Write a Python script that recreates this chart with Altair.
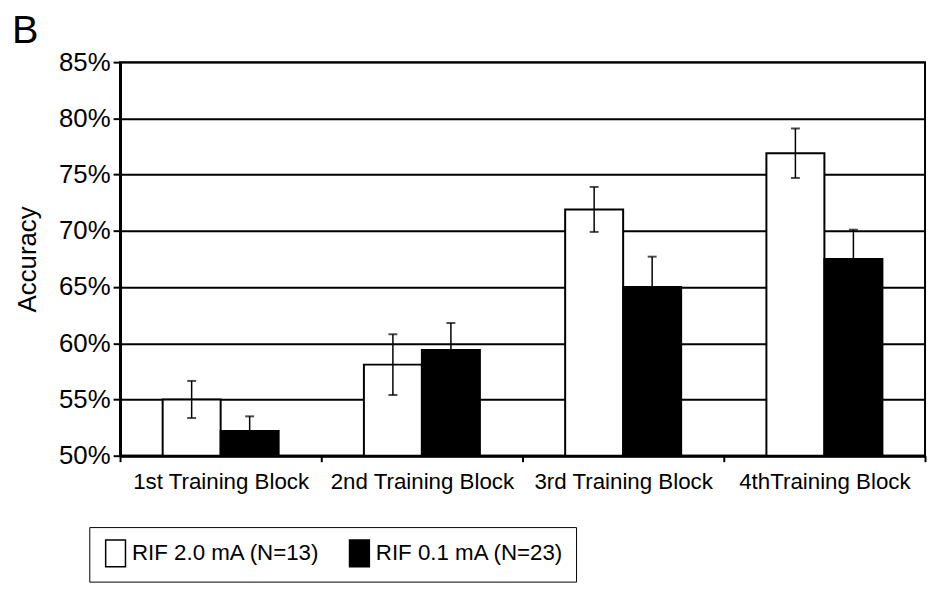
import altair as alt
import pandas as pd

blocks = ["1st Training Block", "2nd Training Block", "3rd Training Block", "4thTraining Block"]
groups = ["RIF 2.0 mA (N=13)", "RIF 0.1 mA (N=23)"]
acc_20 = [0.550, 0.581, 0.719, 0.769]
acc_01 = [0.522, 0.594, 0.650, 0.675]
err_20 = [0.0165, 0.027, 0.020, 0.022]
err_01 = [0.013, 0.024, 0.027, 0.026]
y_ticks = [0.50, 0.55, 0.60, 0.65, 0.70, 0.75, 0.80, 0.85]

rows = []
for i, b in enumerate(blocks):
    rows.append({"block": b, "group": groups[0], "acc": acc_20[i],
                 "lo": acc_20[i] - err_20[i], "hi": acc_20[i] + err_20[i]})
    rows.append({"block": b, "group": groups[1], "acc": acc_01[i],
                 "lo": acc_01[i] - err_01[i], "hi": acc_01[i] + err_01[i]})
df = pd.DataFrame(rows)

FONT = "Liberation Sans"

x = alt.X("block:N", sort=blocks, title=None,
          scale=alt.Scale(paddingInner=0, paddingOuter=0),
          axis=alt.Axis(labelAngle=0, tickBand="extent", labelFontSize=22.5,
                        labelPadding=9, tickSize=6, grid=False, labelLimit=400,
                        labelColor="black", labelFont=FONT,
                        domainColor="black", domainWidth=3,
                        tickColor="black", tickWidth=2))
xo = alt.XOffset("group:N", sort=groups,
                 scale=alt.Scale(paddingInner=0, paddingOuter=0.735))
yscale = alt.Scale(domain=[0.5, 0.85], nice=False, zero=False)

bars = alt.Chart(df).mark_bar(stroke="black", strokeWidth=2).encode(
    x=x,
    xOffset=xo,
    y=alt.Y("acc:Q", scale=yscale, title="Accuracy",
            axis=alt.Axis(values=y_ticks, format=".0%", labelFontSize=26,
                          titleFontSize=26, titleFontWeight="normal",
                          titlePadding=18, labelPadding=3, tickSize=7,
                          labelColor="black", titleColor="black",
                          labelFont=FONT, titleFont=FONT,
                          domainColor="black", domainWidth=3,
                          tickColor="black", tickWidth=2,
                          gridColor="black", gridWidth=2, gridOpacity=1)),
    y2=alt.datum(0.5),
    fill=alt.Fill("group:N", sort=groups,
                  scale=alt.Scale(domain=groups, range=["white", "black"]),
                  legend=alt.Legend(title=None, orient="none", legendX=-31, legendY=469,
                                    direction="horizontal", strokeColor="black",
                                    padding=12, labelFontSize=22.5, labelFont=FONT,
                                    labelColor="black", labelLimit=400, labelOffset=2,
                                    columnPadding=25,
                                    symbolType="M-0.74,-1H0.74V1H-0.74Z",
                                    symbolSize=729, symbolStrokeColor="black",
                                    symbolStrokeWidth=1.5, symbolOpacity=1)),
)

rules = alt.Chart(df).mark_rule(color="black", strokeWidth=1.5).encode(
    x=alt.X("block:N", sort=blocks),
    xOffset=xo,
    y=alt.Y("lo:Q", scale=yscale),
    y2="hi:Q",
)

caps_hi = alt.Chart(df).mark_tick(color="black", size=9, thickness=2).encode(
    x=alt.X("block:N", sort=blocks),
    xOffset=xo,
    y=alt.Y("hi:Q", scale=yscale),
)
caps_lo = alt.Chart(df).mark_tick(color="black", size=9, thickness=2).encode(
    x=alt.X("block:N", sort=blocks),
    xOffset=xo,
    y=alt.Y("lo:Q", scale=yscale),
)

chart = alt.layer(bars, rules, caps_hi, caps_lo).properties(
    width=812, height=397,
    background="white",
    autosize=alt.AutoSizeParams(type="none"),
    padding={"left": 113, "top": 52, "right": 3, "bottom": 150},
    title=alt.Title("B", anchor="start", fontSize=40, fontWeight="normal",
                    font=FONT, color="black", dx=-3, dy=51, offset=17,
                    baseline="alphabetic"),
).configure_view(stroke="black", strokeWidth=2)

chart.save("out.html", embed_options={"renderer": "svg", "actions": False})
